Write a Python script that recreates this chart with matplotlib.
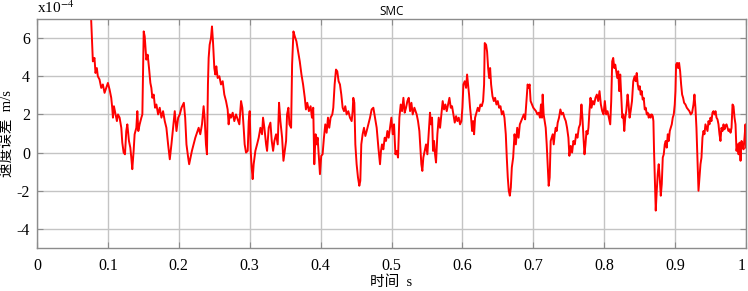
import matplotlib
matplotlib.use("Agg")
import matplotlib.pyplot as plt

plt.rcParams['axes.unicode_minus'] = False
plt.rcParams['mathtext.fontset'] = 'stix'

# (time s, speed error x1e-4 m/s)
seg_a = [(0.0758, 7.5), (0.0778, 5.65), (0.0788, 4.78), (0.0811, 4.96), (0.0825, 4.17), (0.0844, 4.43),
         (0.0858, 4.0), (0.0882, 3.83), (0.0906, 3.39), (0.0929, 3.57), (0.0953, 3.13), (0.0976, 3.39),
         (0.1, 3.65), (0.1024, 3.3), (0.1047, 2.87), (0.1061, 2.35), (0.1071, 1.83), (0.1085, 2.43),
         (0.1108, 2.0), (0.1127, 1.65), (0.1142, 2.0), (0.1165, 1.83), (0.1189, 1.3), (0.1203, 0.52),
         (0.1222, 0.0), (0.1241, -0.09), (0.1259, 1.13), (0.1274, 1.48), (0.1297, 0.61), (0.1316, 0.26),
         (0.133, -0.26), (0.1344, -0.87), (0.1363, 0.09), (0.1377, 0.96), (0.1401, 1.3), (0.1415, 2.17),
         (0.1429, 1.13), (0.1448, 1.48), (0.1472, 1.83), (0.1486, 2.0), (0.1505, 6.35), (0.1519, 6.09),
         (0.1533, 5.3), (0.1542, 4.87), (0.1561, 5.13), (0.158, 4.43), (0.1599, 3.65), (0.1613, 3.39),
         (0.1627, 2.87), (0.1646, 3.04), (0.1665, 2.35), (0.1684, 2.52), (0.1708, 2.0), (0.1731, 2.35),
         (0.1755, 1.83), (0.1778, 2.17), (0.1802, 1.65), (0.1825, 1.3), (0.1849, 0.43), (0.1873, -0.35),
         (0.1896, 0.43), (0.192, 1.3), (0.1943, 2.17), (0.1967, 1.13), (0.1991, 1.83), (0.2014, 2.0),
         (0.2038, 2.35), (0.2071, 2.61), (0.209, 1.83), (0.2108, 0.43), (0.2132, -0.26), (0.2146, -0.61)]

seg_b = [(0.2185, 0.09), (0.2209, 0.43), (0.2233, 0.78), (0.2256, 1.04), (0.228, 1.3), (0.2303, 0.96),
         (0.2327, 1.48), (0.235, 2.43), (0.2364, 1.83), (0.2383, 0.43), (0.2397, -0.09), (0.2411, 3.57),
         (0.2421, 4.96), (0.2435, 5.65), (0.2454, 6.0), (0.2468, 6.61), (0.2482, 5.83), (0.2501, 4.43),
         (0.2515, 4.09), (0.2529, 4.52), (0.2548, 3.91), (0.2572, 4.0), (0.2595, 3.57), (0.2619, 3.74),
         (0.2642, 3.04), (0.2666, 2.7), (0.2689, 2.26), (0.2703, 1.48), (0.2718, 2.0), (0.2736, 1.83),
         (0.276, 2.09), (0.2783, 1.65), (0.2807, 2.0), (0.2831, 1.74), (0.2854, 1.48), (0.2878, 2.7),
         (0.2896, 2.35), (0.2915, 1.3), (0.2929, 0.43), (0.2948, 0.0), (0.2972, 0.09), (0.2986, 1.65),
         (0.3, 2.17), (0.3014, 0.09), (0.3028, -0.78), (0.3042, -1.39), (0.3056, -0.61), (0.308, 0.09),
         (0.3104, 0.43), (0.3127, 0.78), (0.3151, 1.3), (0.3174, 0.96), (0.3188, 1.83), (0.3207, 1.3),
         (0.3231, 0.43), (0.3245, 0.09), (0.3268, 1.3), (0.3292, 1.57), (0.3311, 0.61), (0.333, 0.09),
         (0.3348, 0.61), (0.3372, 0.96), (0.3395, 0.43), (0.3414, 2.61), (0.3433, 1.65), (0.3457, 0.78),
         (0.3476, -0.43), (0.3494, 0.09), (0.3513, 0.61), (0.3527, 2.0), (0.3546, 2.35), (0.356, 1.48),
         (0.3584, 1.3), (0.3598, 4.61), (0.3617, 6.35), (0.3636, 6.09), (0.3659, 5.83), (0.3683, 5.3),
         (0.3706, 4.78), (0.373, 4.09), (0.3753, 3.57), (0.3777, 2.87)]

seg_c = [(0.3793, 2.26), (0.3812, 2.61), (0.3835, 2.17), (0.3859, 2.43), (0.3878, 1.83), (0.3896, 2.35),
         (0.3911, -0.61), (0.3929, 0.96), (0.3944, 0.43), (0.3958, 0.78), (0.3976, -0.26), (0.3991, -1.13),
         (0.4009, -0.17), (0.4028, -0.09), (0.4047, 0.78), (0.4066, 1.48), (0.4085, 1.04), (0.4104, 1.83),
         (0.4122, 1.3), (0.4141, 1.83), (0.4165, 2.0), (0.4179, 2.35), (0.4198, 3.57), (0.4217, 4.35),
         (0.4235, 4.26), (0.4254, 3.74), (0.4273, 3.57), (0.4292, 3.04), (0.4311, 2.35), (0.433, 2.17),
         (0.4348, 2.43), (0.4367, 2.0), (0.4391, 2.17), (0.4414, 1.83), (0.4438, 1.65), (0.4452, 2.17),
         (0.4461, 2.87), (0.4476, 2.61), (0.449, 0.43), (0.4508, -0.61), (0.4527, -1.3), (0.4546, -1.74),
         (0.456, -1.48), (0.4574, 0.43), (0.4593, 0.96), (0.4612, 1.3), (0.4631, 0.87), (0.465, 1.13),
         (0.4673, 1.48), (0.4697, 1.83), (0.472, 2.26), (0.4744, 2.35), (0.4767, 1.83), (0.4791, 1.3),
         (0.4815, 0.26), (0.4838, -0.61), (0.4852, 0.09), (0.4866, 0.43), (0.4885, 0.17), (0.4904, 0.78),
         (0.4923, 0.61), (0.4942, 1.13), (0.496, 0.78), (0.4979, 1.3), (0.4998, 1.83), (0.5017, 0.96),
         (0.5036, 1.48), (0.5055, -0.09), (0.5073, 0.09), (0.5092, -0.26), (0.5111, 1.83), (0.513, 2.52),
         (0.5149, 2.17), (0.5168, 2.87), (0.5186, 2.09), (0.5205, 2.35), (0.5224, 2.7), (0.5243, 2.87),
         (0.5262, 2.17), (0.5281, 2.61), (0.5299, 2.0), (0.5323, 2.35)]

seg_d = [(0.5355, 2.0), (0.5374, 1.65), (0.5393, 1.13), (0.5407, 0.26), (0.5421, -0.61), (0.5435, -0.96),
         (0.5449, -0.26), (0.5468, 0.09), (0.5487, 0.43), (0.5506, -0.09), (0.5524, 0.96), (0.5543, 2.09),
         (0.5557, 1.48), (0.5572, 1.83), (0.5586, 0.09), (0.56, 0.61), (0.5614, -0.09), (0.5628, -0.52),
         (0.5647, 0.96), (0.5666, 1.83), (0.5685, 1.3), (0.5703, 2.0), (0.5722, 2.7), (0.5741, 2.26),
         (0.576, 2.52), (0.5779, 2.17), (0.5798, 2.52), (0.5817, 2.87), (0.5836, 2.35), (0.5854, 2.43),
         (0.5873, 2.0), (0.5892, 1.57), (0.5911, 1.91), (0.5929, 1.65), (0.5948, 1.83), (0.5967, 1.48),
         (0.5986, 1.65), (0.6, 2.35), (0.6014, 3.57), (0.6033, 3.74), (0.6052, 3.39), (0.6066, 4.09),
         (0.608, 3.57), (0.6094, 3.04), (0.6108, 2.35), (0.6122, 1.83), (0.6137, 1.13), (0.6151, 1.65),
         (0.6165, 0.96), (0.6179, 1.83), (0.6198, 2.09), (0.6217, 2.35), (0.6235, 2.17), (0.6254, 2.52),
         (0.6273, 2.43), (0.6292, 2.7), (0.6306, 3.57), (0.6315, 5.74), (0.6334, 5.65), (0.6348, 5.3),
         (0.6363, 4.43), (0.6377, 3.91), (0.6391, 4.43), (0.6405, 3.57), (0.6424, 2.96), (0.6443, 2.7),
         (0.6461, 2.87), (0.648, 2.52), (0.6499, 2.7), (0.6518, 2.35), (0.6537, 2.43), (0.6556, 2.0),
         (0.6575, 2.17), (0.6593, 1.83), (0.6612, 0.96), (0.6626, -0.26), (0.664, -1.3), (0.6654, -2.0),
         (0.6669, -2.26), (0.6683, -1.83), (0.6697, -0.78), (0.6716, -0.26), (0.6735, 0.96), (0.6754, 0.43),
         (0.6773, 1.3), (0.6792, 0.78), (0.681, 1.48), (0.6829, 1.65), (0.6848, 1.83), (0.6866, 2.0),
         (0.6885, 1.74)]

seg_e = [(0.6906, 2.87), (0.692, 3.57), (0.6934, 3.39), (0.6948, 3.57), (0.6962, 2.7), (0.6981, 2.52),
         (0.7, 2.35), (0.7019, 2.26), (0.7038, 2.17), (0.7057, 2.0), (0.7075, 2.09), (0.7094, 1.83),
         (0.7108, 2.52), (0.7123, 1.83), (0.7132, 3.04), (0.7146, 2.0), (0.716, 1.65), (0.7175, 1.3),
         (0.7189, 0.43), (0.7203, -0.61), (0.7217, -1.74), (0.7231, -1.3), (0.7245, 0.61), (0.7259, 0.78),
         (0.7274, 0.96), (0.7288, 0.43), (0.7302, 0.96), (0.7316, 1.3), (0.733, 1.13), (0.7344, 1.57),
         (0.7363, 1.83), (0.7382, 2.26), (0.7401, 2.0), (0.742, 2.09), (0.7439, 1.83), (0.7458, 1.65),
         (0.7476, 1.3), (0.7495, 0.78), (0.7509, -0.17), (0.7528, 0.35), (0.7547, 0.0), (0.7566, 0.61),
         (0.7585, 0.43), (0.7604, 0.96), (0.7623, 0.78), (0.7642, 1.3), (0.766, 1.48), (0.7679, 2.52),
         (0.7693, 1.83), (0.7708, 0.78), (0.7722, -0.09), (0.7736, 0.43), (0.775, 1.13), (0.7764, 0.96),
         (0.7778, 1.3), (0.7792, 2.17), (0.7807, 2.87), (0.7821, 2.35), (0.784, 2.7), (0.7858, 2.52),
         (0.7877, 2.87), (0.7896, 3.04), (0.7915, 2.7), (0.7934, 3.22), (0.7953, 2.52), (0.7972, 2.17),
         (0.7991, 2.0), (0.8009, 2.7), (0.8028, 2.0), (0.8047, 2.17), (0.8066, 1.83), (0.8085, 1.48),
         (0.8099, 2.7), (0.8113, 4.78), (0.8127, 4.96), (0.8142, 4.43), (0.8156, 4.61), (0.817, 4.26),
         (0.8184, 3.91), (0.8198, 4.26), (0.8212, 3.22), (0.8226, 4.09), (0.8241, 2.87), (0.8255, 1.83),
         (0.8269, 2.0), (0.8283, 1.13), (0.8297, 1.83), (0.8311, 2.17), (0.833, 3.04), (0.8344, 2.52),
         (0.8358, 1.83), (0.8373, 2.17), (0.8392, 2.7), (0.841, 3.74), (0.8429, 4.0)]

seg_f = [(0.8444, 3.74), (0.8459, 4.17), (0.8473, 3.57), (0.8487, 3.3), (0.8501, 3.48), (0.8515, 3.04),
         (0.8529, 3.22), (0.8543, 2.78), (0.8557, 2.87), (0.8572, 2.26), (0.8586, 2.35), (0.86, 2.0),
         (0.8614, 2.09), (0.8628, 1.83), (0.8642, 2.0), (0.8656, 1.83), (0.867, 2.0), (0.8685, 1.91),
         (0.8694, 1.65), (0.8703, 0.09), (0.8713, -1.3), (0.8727, -3.04), (0.8741, -2.0), (0.8755, -1.13),
         (0.8769, -0.61), (0.8783, -1.3), (0.8798, -2.26), (0.8812, -1.65), (0.8826, -0.26), (0.884, -0.09),
         (0.8854, 0.43), (0.8868, 0.61), (0.8882, 0.26), (0.8897, 0.96), (0.8911, 0.61), (0.8925, 1.13),
         (0.8939, 1.3), (0.8953, 1.48), (0.8967, 1.83), (0.8981, 2.0), (0.8995, 2.52), (0.9005, 3.22),
         (0.9014, 4.61), (0.9028, 4.7), (0.9042, 4.43), (0.9056, 4.7), (0.9071, 4.26), (0.9085, 3.57),
         (0.9099, 3.04), (0.9113, 2.87), (0.9127, 2.61), (0.9146, 2.52), (0.9165, 2.35), (0.9184, 2.26),
         (0.9202, 2.17), (0.9221, 2.0), (0.924, 2.09), (0.9259, 2.52), (0.9273, 3.04), (0.9287, 2.35),
         (0.9301, 1.3), (0.9315, -0.26), (0.933, -2.0), (0.9344, -1.3), (0.9358, -0.61), (0.9372, -0.26),
         (0.9386, 0.78), (0.94, 1.13), (0.9414, 0.96), (0.9428, 1.48), (0.9443, 1.3), (0.9457, 1.13),
         (0.9471, 1.65), (0.9485, 1.48), (0.9499, 1.83), (0.9513, 1.65), (0.9527, 2.09), (0.9541, 2.17),
         (0.9556, 2.0), (0.957, 2.17), (0.9584, 1.83), (0.9598, 1.74), (0.9612, 1.48), (0.9626, 0.96),
         (0.964, 0.61), (0.9654, 1.3), (0.9669, 1.13), (0.9683, 1.48), (0.9697, 1.22), (0.9711, 1.39),
         (0.9725, 1.48), (0.9739, 1.3), (0.9753, 1.13), (0.9768, 1.22), (0.9782, 1.04), (0.9796, 1.3),
         (0.981, 2.52), (0.9824, 2.43), (0.9838, 1.83), (0.9852, 1.48), (0.9866, 0.09), (0.988, 0.43),
         (0.9895, -0.09), (0.9909, 0.52), (0.9923, -0.43), (0.9937, 0.61), (0.9951, 0.43), (0.9965, 0.17),
         (0.9979, 0.78), (0.9993, 1.48), (1.0, 0.26)]

x_ticks = [0, 0.1, 0.2, 0.3, 0.4, 0.5, 0.6, 0.7, 0.8, 0.9, 1]
x_labels = ['0', '0.1', '0.2', '0.3', '0.4', '0.5', '0.6', '0.7', '0.8', '0.9', '1']
y_ticks = [-4, -2, 0, 2, 4, 6]

pts = seg_a + seg_b + seg_c + seg_d + seg_e + seg_f
t = [p[0] for p in pts]
err = [p[1] for p in pts]

fig = plt.figure(figsize=(7.48, 2.91), dpi=100)
ax = fig.add_axes([37/748, 43/291, 709/748, 229/291])

ax.plot(t, err, color='#ff0000', lw=1.4)
ax.set_xlim(0, 1)
ax.set_ylim(-5, 7)
ax.set_xticks(x_ticks)
ax.set_xticklabels(x_labels)
ax.set_yticks(y_ticks)
ax.grid(True, color='#c4c4c4', lw=1.0)
ax.set_axisbelow(True)
for s in ax.spines.values():
    s.set_color('#8c8c8c')
    s.set_linewidth(1.0)
ax.tick_params(direction='in', length=4, top=True, right=True, color='#8c8c8c')
ax.tick_params(axis='x', pad=7)
ax.tick_params(axis='y', pad=5)
for lab in ax.get_xticklabels() + ax.get_yticklabels():
    lab.set_fontfamily('Liberation Serif')
    lab.set_fontsize(11.5)
# keep the last x label inside the figure
ax.get_xticklabels()[-1].set_horizontalalignment('right')

ax.set_title('SMC', fontsize=8.5, family='Open Sans', pad=3)
ax.set_xlabel('时间  s', fontsize=10.5, family=['Liberation Serif', 'Noto Sans CJK SC'], labelpad=1)
ax.set_ylabel('速度误差  m/s', fontsize=10.5, family=['Liberation Serif', 'Noto Sans CJK SC'], labelpad=2)
ax.text(0.0, 1.015, r'x10$^{-4}$', transform=ax.transAxes, fontsize=11,
        family='Liberation Serif', ha='left', va='bottom')

fig.savefig('out.png', dpi=100)
